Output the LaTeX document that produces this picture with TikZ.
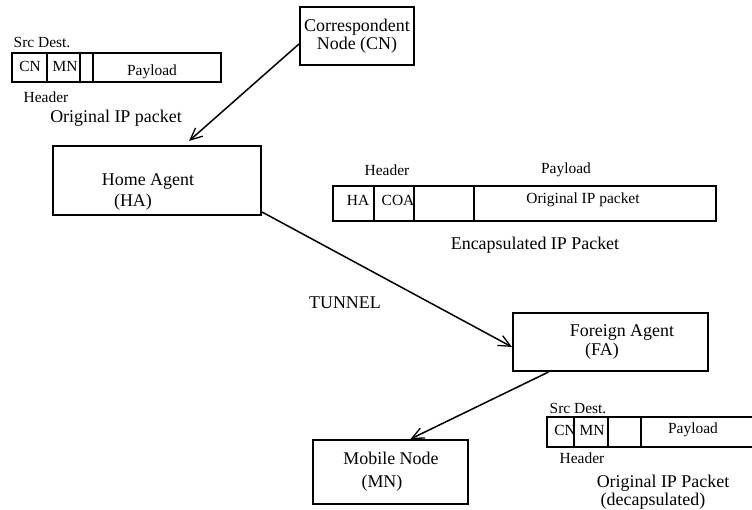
\documentclass[tikz,border=0pt]{standalone}
\usepackage{fontspec}
\setmainfont{Liberation Serif}
\usetikzlibrary{arrows.meta, positioning, calc}

\newcommand{\mainsize}{\fontsize{18}{18}\selectfont}
\newcommand{\smallsize}{\fontsize{15.5}{16}\selectfont}

\begin{document}
\begin{tikzpicture}[x=1bp, y=-1bp,
  agent/.style={draw, line width=2bp, inner sep=0pt, align=center, font=\mainsize},
  lbl/.style={inner sep=0pt, font=\mainsize},
  small/.style={inner sep=0pt, font=\smallsize},
  pkt/.style={line width=1.6bp},
  arr/.style={line width=1.5bp, -{Straight Barb[length=12bp, width=11bp, line width=1.3bp]}}]
  \useasboundingbox (0,0) rectangle (752,510);

  % Correspondent node
  \node[agent, minimum width=114bp, minimum height=58bp] (cn) at (357,36) {Correspondent\\Node (CN)};

  % Home agent
  \node[agent, minimum width=208bp, minimum height=69bp] (ha) at (157,180.5) {};
  \node[lbl] (hatxt) at (148,182) {Home Agent};
  \node[lbl] (hatag) at (133,202) {(HA)};

  % Foreign agent
  \node[agent, minimum width=195bp, minimum height=58bp] (fa) at (610.5,342) {};
  \node[lbl] (fatxt) at (622,332) {Foreign Agent};
  \node[lbl] (fatag) at (602,351) {(FA)};

  % Mobile node
  \node[agent, minimum width=155bp, minimum height=64bp] (mn) at (390.5,472) {};
  \node[lbl] (mntxt) at (391,458) {Mobile Node};
  \node[lbl] (mntag) at (382,483) {(MN)};

  % Arrows
  \draw[arr] ([yshift=-8bp]cn.west) -- ([xshift=32bp, yshift=4bp]ha.north);
  \draw[arr] ([yshift=4bp]ha.south east) -- ([yshift=-5bp]fa.west);
  \draw[arr] ([xshift=-62bp]fa.south) -- ([xshift=20bp]mn.north);
  \node[lbl] (tunnel) at (345,303) {TUNNEL};

  % Original IP packet
  \draw[pkt] (12,53) rectangle (221,82);
  \foreach \x in {47, 80, 93} \draw[pkt] (\x,53) -- (\x,82);
  \node[small] (srcdest1) at (42,43) {Src Dest.};
  \node[small] (cn1) at (30,66) {CN};
  \node[small] (mn1) at (65,66) {MN};
  \node[small] (pay1) at (152,72) {Payload};
  \node[small] (hdr1) at (46,97) {Header};
  \node[lbl] (orig1) at (116,118) {Original IP packet};

  % Encapsulated packet
  \draw[pkt] (333,186) rectangle (716,221);
  \foreach \x in {374, 414, 474} \draw[pkt] (\x,186) -- (\x,221);
  \node[small] (hdr2) at (387,170) {Header};
  \node[small] (pay2) at (566,170) {Payload};
  \node[small] (ha2) at (358,200) {HA};
  \node[small] (coa2) at (398,200) {COA};
  \node[small] (inner2) at (583,200) {Original IP packet};
  \node[lbl] (encap) at (535,245) {Encapsulated IP Packet};

  % Decapsulated packet
  \draw[pkt] (752,417) -- (547,417) -- (547,447) -- (752,447);
  \foreach \x in {574, 608, 641} \draw[pkt] (\x,417) -- (\x,447);
  \node[small] (srcdest3) at (578,408) {Src Dest.};
  \node[small] (cn3) at (565,430) {CN};
  \node[small] (mn3) at (592,430) {MN};
  \node[small] (pay3) at (693,430) {Payload};
  \node[small] (hdr3) at (582,458) {Header};
  \node[lbl] (orig3) at (663,483) {Original IP Packet};
  \node[lbl] (decap) at (653,501) {(decapsulated)};
\end{tikzpicture}
\end{document}
